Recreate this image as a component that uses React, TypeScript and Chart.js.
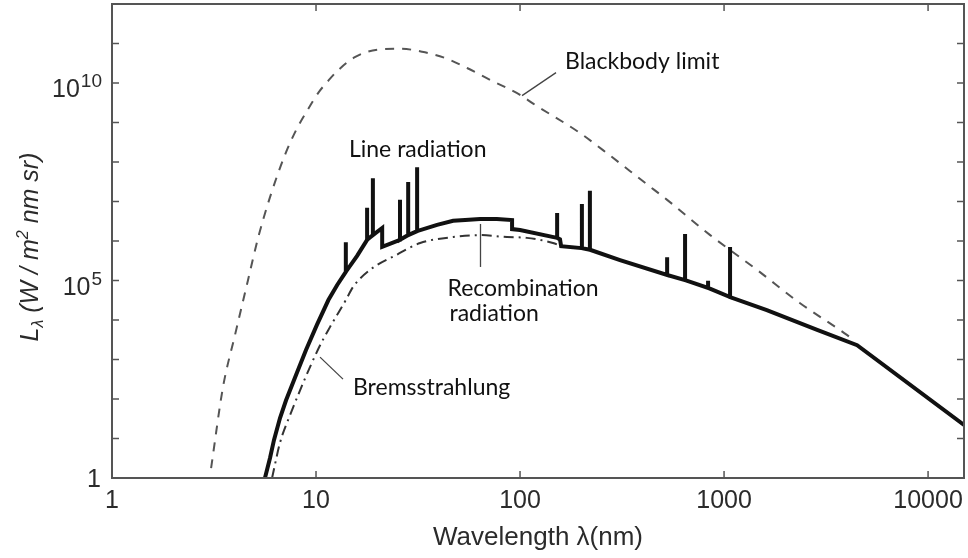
import { useEffect, useRef } from "react";
import { Chart, registerables } from "chart.js";

Chart.register(...registerables);

// ---- Data (wavelength in nm, radiance in W / m^2 nm sr) ----
const blackbodyWavelength = [3.06, 3.5, 4.0, 4.64, 5.2, 5.95, 7.0, 8.0, 9.0, 10.3, 11.5, 12.7, 15.5, 20.1, 25.8, 33.1, 42.9, 55, 71.3, 100, 116, 197, 255, 418, 526, 855, 1450, 2350, 4000, 4400];
const blackbodyRadiance = [1.78, 200, 4.0e3, 1.02e5, 1.2e6, 1.29e7, 1.4e8, 6.5e8, 1.9e9, 5.8e9, 1.15e10, 2.0e10, 4.5e10, 7.0e10, 7.4e10, 6.2e10, 4.3e10, 2.4e10, 1.2e10, 5.0e9, 3.0e9, 5.4e8, 2.0e8, 2.75e7, 1.1e7, 1.41e6, 1.86e5, 2.7e4, 4.2e3, 2.9e3];

const continuumWavelength = [5.62, 5.95, 6.22, 6.66, 7.13, 7.98, 8.93, 10.1, 11.5, 12.7, 14.0, 15.9, 17.8, 19.0, 21.1, 21.1, 25.8, 28.3, 31.3, 39.2, 47.0, 53.8, 63.7, 77, 91.4, 91.4, 100, 152, 157, 159, 201, 220, 309, 526, 644, 835, 1070, 1620, 2860, 4490, 15000];
const continuumRadiance = [1, 3.2, 9.1, 33, 93, 405, 1740, 7.5e3, 3.2e4, 7.7e4, 1.66e5, 4.2e5, 1.07e6, 1.41e6, 2.14e6, 7.1e5, 1.07e6, 1.41e6, 1.78e6, 2.57e6, 3.24e6, 3.4e6, 3.63e6, 3.6e6, 3.39e6, 2.0e6, 1.9e6, 1.2e6, 1.1e6, 7.4e5, 6.6e5, 6.0e5, 3.3e5, 1.38e5, 1.02e5, 6.5e4, 3.8e4, 1.78e4, 5.6e3, 2.3e3, 22];

const lineWavelength = [14.0, 17.8, 19.0, 25.8, 28.3, 31.3, 152, 201, 220, 526, 644, 835, 1070];
const linePeak = [9.3e5, 6.9e6, 3.9e7, 1.1e7, 3.1e7, 7.4e7, 5.1e6, 8.7e6, 1.86e7, 3.9e5, 1.5e6, 9.8e4, 7.1e5];

const bremsWavelength = [6.09, 6.66, 7.46, 10.2, 11.7, 14.0, 15.2, 18.4, 24.9, 32.4, 47.0, 63.7, 86.3, 108, 145, 159];
const bremsRadiance = [1, 7.8, 39, 1740, 6.6e3, 3.2e4, 6.9e4, 1.86e5, 4.5e5, 8.9e5, 1.26e6, 1.41e6, 1.26e6, 1.2e6, 8.9e5, 7.4e5];

const xTickValues = [1, 10, 100, 1000, 10000];
const xTickLabels = ["1", "10", "100", "1000", "10000"];
const yTickExponents = [0, 1, 2, 3, 4, 5, 6, 7, 8, 9, 10, 11, 12];
const yLabelExponents = [0, 5, 10];

const X_MIN = 1;
const X_MAX = 15000;
const Y_MIN = 1;
const Y_MAX = 1e12;

function buildMainLine() {
  const pts: { x: number; y: number }[] = [];
  continuumWavelength.forEach((x, i) => {
    const y = continuumRadiance[i];
    pts.push({ x, y });
    const k = lineWavelength.indexOf(x);
    if (k >= 0) {
      pts.push({ x, y: linePeak[k] });
      pts.push({ x, y });
    }
  });
  return pts;
}

const zip = (xs: number[], ys: number[]) => xs.map((x, i) => ({ x, y: ys[i] }));

const TICK_FONT = '"Liberation Sans", Arial, Helvetica, sans-serif';
const NOTE_FONT = 'Lato, "Open Sans", sans-serif';

const decorPlugin = {
  id: "decor",
  afterDraw(chart: any) {
    const { ctx, chartArea: a, scales } = chart;
    const xs = scales.x;
    const ys = scales.y;
    ctx.save();

    // frame
    ctx.strokeStyle = "#555";
    ctx.lineWidth = 2;
    ctx.strokeRect(a.left, a.top, a.right - a.left, a.bottom - a.top);

    // inward ticks
    ctx.lineWidth = 1.5;
    const seg = (x1: number, y1: number, x2: number, y2: number) => {
      ctx.beginPath();
      ctx.moveTo(x1, y1);
      ctx.lineTo(x2, y2);
      ctx.stroke();
    };
    xTickValues.forEach((v) => {
      const px = xs.getPixelForValue(v);
      seg(px, a.bottom, px, a.bottom - 7);
      seg(px, a.top, px, a.top + 7);
    });
    yTickExponents.forEach((e) => {
      const py = ys.getPixelForValue(Math.pow(10, e));
      seg(a.left, py, a.left + 7, py);
      seg(a.right, py, a.right - 7, py);
    });

    // x tick labels
    ctx.fillStyle = "#2b2b2b";
    ctx.font = `25px ${TICK_FONT}`;
    ctx.textAlign = "center";
    ctx.textBaseline = "alphabetic";
    xTickValues.forEach((v, i) => {
      ctx.fillText(xTickLabels[i], xs.getPixelForValue(v), a.bottom + 30);
    });

    // y tick labels with superscripts
    ctx.textAlign = "right";
    yLabelExponents.forEach((e) => {
      const py = ys.getPixelForValue(Math.pow(10, e));
      const right = a.left - 10;
      if (e === 0) {
        ctx.font = `25px ${TICK_FONT}`;
        ctx.fillText("1", right - 1, py + 9);
      } else {
        ctx.font = `19px ${TICK_FONT}`;
        const sup = String(e);
        const w = ctx.measureText(sup).width;
        ctx.fillText(sup, right, py + 4);
        ctx.font = `25px ${TICK_FONT}`;
        ctx.fillText("10", right - w - 1, py + 14);
      }
    });

    // x axis title
    ctx.font = `26px ${TICK_FONT}`;
    ctx.textAlign = "center";
    ctx.fillText("Wavelength \u03bb(nm)", (a.left + a.right) / 2, a.bottom + 67);

    // y axis title (rotated), italic with sub/superscript
    const pieces = [
      { t: "L", size: 25, dy: 0 },
      { t: "\u03bb", size: 16, dy: 5 },
      { t: " (W / m", size: 25, dy: 0 },
      { t: "2", size: 16, dy: -10 },
      { t: " nm sr)", size: 25, dy: 0 },
    ];
    ctx.save();
    ctx.translate(38, 247);
    ctx.rotate(-Math.PI / 2);
    ctx.textAlign = "left";
    let total = 0;
    const widths = pieces.map((p) => {
      ctx.font = `italic ${p.size}px ${TICK_FONT}`;
      const w = ctx.measureText(p.t).width;
      total += w;
      return w;
    });
    let cx = -total / 2;
    pieces.forEach((p, i) => {
      ctx.font = `italic ${p.size}px ${TICK_FONT}`;
      ctx.fillText(p.t, cx, p.dy);
      cx += widths[i];
    });
    ctx.restore();

    // annotations anchored to data coordinates
    ctx.strokeStyle = "#444";
    ctx.lineWidth = 1.3;
    ctx.fillStyle = "#111";
    ctx.font = `23px ${NOTE_FONT}`;
    ctx.textAlign = "left";

    // Blackbody limit
    {
      const ax = xs.getPixelForValue(100);
      const ay = ys.getPixelForValue(4.8e9);
      seg(ax + 2, ay, ax + 36, ay - 23);
      ctx.fillText("Blackbody limit", ax + 45, ay - 27);
    }
    // Line radiation
    {
      const ax = xs.getPixelForValue(14.5);
      const ay = ys.getPixelForValue(1.35e8);
      ctx.fillText("Line radiation", ax, ay);
    }
    // Recombination radiation
    {
      const ax = xs.getPixelForValue(64);
      const ay = ys.getPixelForValue(2.7e6);
      seg(ax, ay, ax, ay + 43);
      ctx.fillText("Recombination", ax - 33, ay + 72);
      ctx.fillText("radiation", ax - 31, ay + 97);
    }
    // Bremsstrahlung
    {
      const ax = xs.getPixelForValue(10.46);
      const ay = ys.getPixelForValue(1150);
      seg(ax, ay, ax + 23, ay + 22);
      ctx.fillText("Bremsstrahlung", ax + 33, ay + 38);
    }

    ctx.restore();
  },
};

export default function App() {
  const ref = useRef<HTMLCanvasElement>(null);

  useEffect(() => {
    if (!ref.current) return;
    const chart = new Chart(ref.current, {
      type: "scatter",
      data: {
        datasets: [
          {
            label: "Total emission",
            data: buildMainLine(),
            showLine: true,
            borderColor: "#111",
            backgroundColor: "#111",
            borderWidth: 4,
            borderJoinStyle: "miter",
            borderCapStyle: "butt",
            pointRadius: 0,
            tension: 0,
          },
          {
            label: "Bremsstrahlung",
            data: zip(bremsWavelength, bremsRadiance),
            showLine: true,
            borderColor: "#333",
            borderWidth: 2,
            borderDash: [10, 5, 2, 5],
            pointRadius: 0,
            cubicInterpolationMode: "monotone",
          },
          {
            label: "Blackbody limit",
            data: zip(blackbodyWavelength, blackbodyRadiance),
            showLine: true,
            borderColor: "#555",
            borderWidth: 2,
            borderDash: [9, 8],
            pointRadius: 0,
            cubicInterpolationMode: "monotone",
          },
        ],
      },
      options: {
        responsive: false,
        animation: false,
        devicePixelRatio: 1,
        layout: { padding: { left: 112, right: 4, top: 4, bottom: 80 } },
        plugins: { legend: { display: false }, tooltip: { enabled: false } },
        events: [],
        scales: {
          x: { type: "logarithmic", min: X_MIN, max: X_MAX, display: false },
          y: { type: "logarithmic", min: Y_MIN, max: Y_MAX, display: false },
        },
      } as any,
      plugins: [decorPlugin],
    });
    return () => chart.destroy();
  }, []);

  return (
    <div style={{ position: "fixed", left: 0, top: 0, width: 968, height: 558, background: "#fff" }}>
      <canvas ref={ref} width={968} height={558} style={{ display: "block", width: 968, height: 558 }} />
    </div>
  );
}
